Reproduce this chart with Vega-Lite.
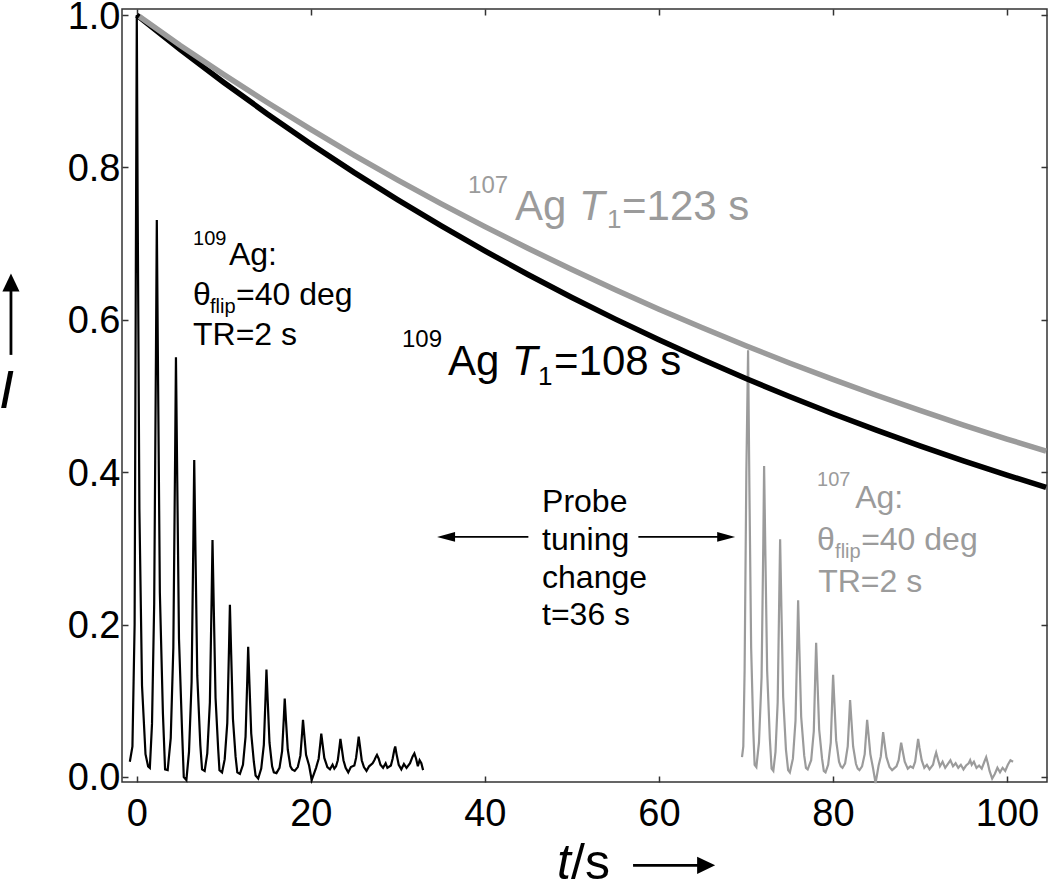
{
  "$schema": "https://vega.github.io/schema/vega-lite/v6.json",
  "width": 925,
  "height": 773,
  "autosize": {"type": "none"},
  "padding": {"left": 122, "top": 9, "right": 3, "bottom": 109},
  "background": "white",
  "config": {
    "font": "Liberation Sans",
    "view": {"stroke": "#333333", "strokeWidth": 1.5},
    "axis": {"grid": false, "domain": false, "tickColor": "#333333", "tickWidth": 1.5, "tickSize": -6, "labelFontSize": 38, "labelColor": "#000000", "labelFlush": false, "labelFont": "Liberation Sans"}
  },
  "datasets": {
    "curves": [
      {"t": 0, "I": 1.0, "iso": "109Ag"}, {"t": 5, "I": 0.9548, "iso": "109Ag"}, {"t": 10, "I": 0.9116, "iso": "109Ag"}, {"t": 15, "I": 0.8703, "iso": "109Ag"}, {"t": 20, "I": 0.8309, "iso": "109Ag"}, {"t": 25, "I": 0.7933, "iso": "109Ag"}, {"t": 30, "I": 0.7575, "iso": "109Ag"}, {"t": 35, "I": 0.7232, "iso": "109Ag"}, {"t": 40, "I": 0.6905, "iso": "109Ag"}, {"t": 45, "I": 0.6592, "iso": "109Ag"}, {"t": 50, "I": 0.6294, "iso": "109Ag"}, {"t": 55, "I": 0.6009, "iso": "109Ag"}, {"t": 60, "I": 0.5738, "iso": "109Ag"}, {"t": 65, "I": 0.5478, "iso": "109Ag"}, {"t": 70, "I": 0.523, "iso": "109Ag"}, {"t": 75, "I": 0.4994, "iso": "109Ag"}, {"t": 80, "I": 0.4768, "iso": "109Ag"}, {"t": 85, "I": 0.4552, "iso": "109Ag"}, {"t": 90, "I": 0.4346, "iso": "109Ag"}, {"t": 95, "I": 0.415, "iso": "109Ag"}, {"t": 100, "I": 0.3962, "iso": "109Ag"}, {"t": 104.5, "I": 0.38, "iso": "109Ag"},
      {"t": 0.3, "I": 0.998, "iso": "107Ag"}, {"t": 5, "I": 0.9602, "iso": "107Ag"}, {"t": 10, "I": 0.9219, "iso": "107Ag"}, {"t": 15, "I": 0.8852, "iso": "107Ag"}, {"t": 20, "I": 0.8499, "iso": "107Ag"}, {"t": 25, "I": 0.816, "iso": "107Ag"}, {"t": 30, "I": 0.7835, "iso": "107Ag"}, {"t": 35, "I": 0.7523, "iso": "107Ag"}, {"t": 40, "I": 0.7224, "iso": "107Ag"}, {"t": 45, "I": 0.6936, "iso": "107Ag"}, {"t": 50, "I": 0.666, "iso": "107Ag"}, {"t": 55, "I": 0.6394, "iso": "107Ag"}, {"t": 60, "I": 0.614, "iso": "107Ag"}, {"t": 65, "I": 0.5895, "iso": "107Ag"}, {"t": 70, "I": 0.566, "iso": "107Ag"}, {"t": 75, "I": 0.5434, "iso": "107Ag"}, {"t": 80, "I": 0.5218, "iso": "107Ag"}, {"t": 85, "I": 0.501, "iso": "107Ag"}, {"t": 90, "I": 0.4811, "iso": "107Ag"}, {"t": 95, "I": 0.4619, "iso": "107Ag"}, {"t": 100, "I": 0.4435, "iso": "107Ag"}, {"t": 104.5, "I": 0.4276, "iso": "107Ag"}
    ],
    "spectra": [
      {"t": -0.8, "I": 0.02, "iso": "109Ag"}, {"t": -0.5, "I": 0.04, "iso": "109Ag"}, {"t": -0.25, "I": 0.2, "iso": "109Ag"}, {"t": -0.1, "I": 0.7, "iso": "109Ag"}, {"t": 0, "I": 1.0, "iso": "109Ag"}, {"t": 0.1, "I": 0.75, "iso": "109Ag"}, {"t": 0.3, "I": 0.35, "iso": "109Ag"}, {"t": 0.6, "I": 0.12, "iso": "109Ag"}, {"t": 1.0, "I": 0.03, "iso": "109Ag"}, {"t": 1.3, "I": 0.014, "iso": "109Ag"}, {"t": 1.5, "I": 0.012, "iso": "109Ag"},
      {"t": 1.75, "I": 0.07, "iso": "109Ag"}, {"t": 2.0, "I": 0.228, "iso": "109Ag"}, {"t": 2.2, "I": 0.551, "iso": "109Ag"}, {"t": 2.3, "I": 0.731, "iso": "109Ag"}, {"t": 2.45, "I": 0.515, "iso": "109Ag"}, {"t": 2.65, "I": 0.242, "iso": "109Ag"}, {"t": 3.0, "I": 0.084, "iso": "109Ag"}, {"t": 3.25, "I": 0.01, "iso": "109Ag"}, {"t": 3.55, "I": 0.009, "iso": "109Ag"},
      {"t": 3.9, "I": 0.051, "iso": "109Ag"}, {"t": 4.2, "I": 0.17, "iso": "109Ag"}, {"t": 4.4, "I": 0.415, "iso": "109Ag"}, {"t": 4.5, "I": 0.551, "iso": "109Ag"}, {"t": 4.65, "I": 0.388, "iso": "109Ag"}, {"t": 4.85, "I": 0.181, "iso": "109Ag"}, {"t": 5.2, "I": 0.061, "iso": "109Ag"}, {"t": 5.4, "I": 0.0, "iso": "109Ag"}, {"t": 5.7, "I": -0.004, "iso": "109Ag"},
      {"t": 6.0, "I": 0.033, "iso": "109Ag"}, {"t": 6.3, "I": 0.125, "iso": "109Ag"}, {"t": 6.5, "I": 0.312, "iso": "109Ag"}, {"t": 6.6, "I": 0.416, "iso": "109Ag"}, {"t": 6.75, "I": 0.291, "iso": "109Ag"}, {"t": 6.95, "I": 0.133, "iso": "109Ag"}, {"t": 7.3, "I": 0.042, "iso": "109Ag"}, {"t": 7.5, "I": 0.01, "iso": "109Ag"}, {"t": 7.8, "I": 0.008, "iso": "109Ag"},
      {"t": 8.1, "I": 0.031, "iso": "109Ag"}, {"t": 8.4, "I": 0.098, "iso": "109Ag"}, {"t": 8.6, "I": 0.235, "iso": "109Ag"}, {"t": 8.7, "I": 0.311, "iso": "109Ag"}, {"t": 8.85, "I": 0.22, "iso": "109Ag"}, {"t": 9.05, "I": 0.104, "iso": "109Ag"}, {"t": 9.35, "I": 0.037, "iso": "109Ag"}, {"t": 9.5, "I": 0.009, "iso": "109Ag"}, {"t": 9.8, "I": 0.006, "iso": "109Ag"},
      {"t": 10.1, "I": 0.023, "iso": "109Ag"}, {"t": 10.4, "I": 0.071, "iso": "109Ag"}, {"t": 10.6, "I": 0.171, "iso": "109Ag"}, {"t": 10.7, "I": 0.226, "iso": "109Ag"}, {"t": 10.85, "I": 0.16, "iso": "109Ag"}, {"t": 11.05, "I": 0.076, "iso": "109Ag"}, {"t": 11.35, "I": 0.027, "iso": "109Ag"}, {"t": 11.55, "I": 0.006, "iso": "109Ag"}, {"t": 11.85, "I": 0.004, "iso": "109Ag"},
      {"t": 12.2, "I": 0.016, "iso": "109Ag"}, {"t": 12.5, "I": 0.053, "iso": "109Ag"}, {"t": 12.7, "I": 0.129, "iso": "109Ag"}, {"t": 12.8, "I": 0.171, "iso": "109Ag"}, {"t": 12.95, "I": 0.121, "iso": "109Ag"}, {"t": 13.15, "I": 0.057, "iso": "109Ag"}, {"t": 13.45, "I": 0.02, "iso": "109Ag"}, {"t": 13.65, "I": 0.002, "iso": "109Ag"}, {"t": 13.95, "I": -0.002, "iso": "109Ag"},
      {"t": 14.3, "I": 0.011, "iso": "109Ag"}, {"t": 14.6, "I": 0.042, "iso": "109Ag"}, {"t": 14.8, "I": 0.106, "iso": "109Ag"}, {"t": 14.9, "I": 0.141, "iso": "109Ag"}, {"t": 15.05, "I": 0.099, "iso": "109Ag"}, {"t": 15.25, "I": 0.045, "iso": "109Ag"}, {"t": 15.55, "I": 0.014, "iso": "109Ag"}, {"t": 15.75, "I": 0.006, "iso": "109Ag"}, {"t": 16.05, "I": 0.005, "iso": "109Ag"},
      {"t": 16.4, "I": 0.012, "iso": "109Ag"}, {"t": 16.7, "I": 0.034, "iso": "109Ag"}, {"t": 16.9, "I": 0.078, "iso": "109Ag"}, {"t": 17.0, "I": 0.103, "iso": "109Ag"}, {"t": 17.15, "I": 0.073, "iso": "109Ag"}, {"t": 17.35, "I": 0.036, "iso": "109Ag"}, {"t": 17.65, "I": 0.014, "iso": "109Ag"}, {"t": 17.85, "I": 0.01, "iso": "109Ag"}, {"t": 18.15, "I": 0.008, "iso": "109Ag"},
      {"t": 18.5, "I": 0.013, "iso": "109Ag"}, {"t": 18.8, "I": 0.028, "iso": "109Ag"}, {"t": 19.0, "I": 0.058, "iso": "109Ag"}, {"t": 19.1, "I": 0.075, "iso": "109Ag"}, {"t": 19.25, "I": 0.055, "iso": "109Ag"}, {"t": 19.45, "I": 0.029, "iso": "109Ag"}, {"t": 19.8, "I": 0.015, "iso": "109Ag"}, {"t": 20.1, "I": -0.004, "iso": "109Ag"},
      {"t": 20.6, "I": 0.012, "iso": "109Ag"}, {"t": 20.9, "I": 0.024, "iso": "109Ag"}, {"t": 21.1, "I": 0.045, "iso": "109Ag"}, {"t": 21.2, "I": 0.057, "iso": "109Ag"}, {"t": 21.35, "I": 0.043, "iso": "109Ag"}, {"t": 21.55, "I": 0.025, "iso": "109Ag"}, {"t": 21.9, "I": 0.013, "iso": "109Ag"}, {"t": 22.2, "I": 0.01, "iso": "109Ag"}, {"t": 22.5, "I": 0.016, "iso": "109Ag"}, {"t": 22.7, "I": 0.011, "iso": "109Ag"},
      {"t": 22.9, "I": 0.014, "iso": "109Ag"}, {"t": 23.1, "I": 0.022, "iso": "109Ag"}, {"t": 23.3, "I": 0.04, "iso": "109Ag"}, {"t": 23.4, "I": 0.05, "iso": "109Ag"}, {"t": 23.55, "I": 0.038, "iso": "109Ag"}, {"t": 23.75, "I": 0.022, "iso": "109Ag"}, {"t": 24.0, "I": 0.012, "iso": "109Ag"}, {"t": 24.3, "I": 0.006, "iso": "109Ag"}, {"t": 24.6, "I": 0.013, "iso": "109Ag"},
      {"t": 25.0, "I": 0.015, "iso": "109Ag"}, {"t": 25.2, "I": 0.025, "iso": "109Ag"}, {"t": 25.4, "I": 0.043, "iso": "109Ag"}, {"t": 25.5, "I": 0.053, "iso": "109Ag"}, {"t": 25.65, "I": 0.04, "iso": "109Ag"}, {"t": 25.85, "I": 0.022, "iso": "109Ag"}, {"t": 26.1, "I": 0.013, "iso": "109Ag"}, {"t": 26.4, "I": 0.008, "iso": "109Ag"}, {"t": 26.7, "I": 0.014, "iso": "109Ag"},
      {"t": 27.1, "I": 0.018, "iso": "109Ag"}, {"t": 27.3, "I": 0.022, "iso": "109Ag"}, {"t": 27.5, "I": 0.027, "iso": "109Ag"}, {"t": 27.6, "I": 0.029, "iso": "109Ag"}, {"t": 27.8, "I": 0.024, "iso": "109Ag"}, {"t": 28.0, "I": 0.016, "iso": "109Ag"}, {"t": 28.3, "I": 0.012, "iso": "109Ag"}, {"t": 28.6, "I": 0.018, "iso": "109Ag"}, {"t": 28.8, "I": 0.012, "iso": "109Ag"},
      {"t": 29.2, "I": 0.015, "iso": "109Ag"}, {"t": 29.4, "I": 0.024, "iso": "109Ag"}, {"t": 29.6, "I": 0.036, "iso": "109Ag"}, {"t": 29.7, "I": 0.04, "iso": "109Ag"}, {"t": 29.85, "I": 0.03, "iso": "109Ag"}, {"t": 30.1, "I": 0.016, "iso": "109Ag"}, {"t": 30.4, "I": 0.01, "iso": "109Ag"}, {"t": 30.7, "I": 0.017, "iso": "109Ag"}, {"t": 31.0, "I": 0.012, "iso": "109Ag"},
      {"t": 31.4, "I": 0.018, "iso": "109Ag"}, {"t": 31.7, "I": 0.027, "iso": "109Ag"}, {"t": 31.9, "I": 0.031, "iso": "109Ag"}, {"t": 32.1, "I": 0.024, "iso": "109Ag"}, {"t": 32.3, "I": 0.014, "iso": "109Ag"}, {"t": 32.5, "I": 0.022, "iso": "109Ag"}, {"t": 32.7, "I": 0.018, "iso": "109Ag"}, {"t": 32.9, "I": 0.009, "iso": "109Ag"},
      {"t": 69.55, "I": 0.026, "iso": "107Ag"}, {"t": 69.7, "I": 0.04, "iso": "107Ag"}, {"t": 69.85, "I": 0.14, "iso": "107Ag"}, {"t": 70.05, "I": 0.4, "iso": "107Ag"}, {"t": 70.25, "I": 0.56, "iso": "107Ag"}, {"t": 70.4, "I": 0.38, "iso": "107Ag"}, {"t": 70.6, "I": 0.17, "iso": "107Ag"}, {"t": 70.85, "I": 0.06, "iso": "107Ag"}, {"t": 71.0, "I": 0.016, "iso": "107Ag"}, {"t": 71.2, "I": 0.013, "iso": "107Ag"},
      {"t": 71.5, "I": 0.045, "iso": "107Ag"}, {"t": 71.8, "I": 0.131, "iso": "107Ag"}, {"t": 72.0, "I": 0.309, "iso": "107Ag"}, {"t": 72.09, "I": 0.408, "iso": "107Ag"}, {"t": 72.24, "I": 0.29, "iso": "107Ag"}, {"t": 72.44, "I": 0.139, "iso": "107Ag"}, {"t": 72.75, "I": 0.05, "iso": "107Ag"}, {"t": 72.95, "I": 0.011, "iso": "107Ag"}, {"t": 73.15, "I": 0.008, "iso": "107Ag"},
      {"t": 73.4, "I": 0.033, "iso": "107Ag"}, {"t": 73.65, "I": 0.098, "iso": "107Ag"}, {"t": 73.83, "I": 0.236, "iso": "107Ag"}, {"t": 73.93, "I": 0.312, "iso": "107Ag"}, {"t": 74.08, "I": 0.22, "iso": "107Ag"}, {"t": 74.28, "I": 0.105, "iso": "107Ag"}, {"t": 74.6, "I": 0.036, "iso": "107Ag"}, {"t": 74.85, "I": 0.009, "iso": "107Ag"}, {"t": 75.05, "I": 0.006, "iso": "107Ag"},
      {"t": 75.4, "I": 0.024, "iso": "107Ag"}, {"t": 75.7, "I": 0.074, "iso": "107Ag"}, {"t": 75.9, "I": 0.175, "iso": "107Ag"}, {"t": 76.0, "I": 0.232, "iso": "107Ag"}, {"t": 76.15, "I": 0.165, "iso": "107Ag"}, {"t": 76.35, "I": 0.079, "iso": "107Ag"}, {"t": 76.7, "I": 0.028, "iso": "107Ag"}, {"t": 76.9, "I": 0.012, "iso": "107Ag"}, {"t": 77.1, "I": 0.01, "iso": "107Ag"},
      {"t": 77.5, "I": 0.022, "iso": "107Ag"}, {"t": 77.8, "I": 0.06, "iso": "107Ag"}, {"t": 77.97, "I": 0.134, "iso": "107Ag"}, {"t": 78.07, "I": 0.176, "iso": "107Ag"}, {"t": 78.22, "I": 0.126, "iso": "107Ag"}, {"t": 78.42, "I": 0.062, "iso": "107Ag"}, {"t": 78.75, "I": 0.024, "iso": "107Ag"}, {"t": 78.95, "I": 0.008, "iso": "107Ag"}, {"t": 79.15, "I": 0.006, "iso": "107Ag"},
      {"t": 79.45, "I": 0.016, "iso": "107Ag"}, {"t": 79.75, "I": 0.045, "iso": "107Ag"}, {"t": 79.92, "I": 0.102, "iso": "107Ag"}, {"t": 80.02, "I": 0.134, "iso": "107Ag"}, {"t": 80.17, "I": 0.097, "iso": "107Ag"}, {"t": 80.37, "I": 0.048, "iso": "107Ag"}, {"t": 80.7, "I": 0.02, "iso": "107Ag"}, {"t": 80.9, "I": 0.014, "iso": "107Ag"}, {"t": 81.1, "I": 0.012, "iso": "107Ag"},
      {"t": 81.4, "I": 0.018, "iso": "107Ag"}, {"t": 81.7, "I": 0.04, "iso": "107Ag"}, {"t": 81.87, "I": 0.078, "iso": "107Ag"}, {"t": 81.97, "I": 0.101, "iso": "107Ag"}, {"t": 82.12, "I": 0.075, "iso": "107Ag"}, {"t": 82.32, "I": 0.04, "iso": "107Ag"}, {"t": 82.65, "I": 0.017, "iso": "107Ag"}, {"t": 82.85, "I": 0.011, "iso": "107Ag"}, {"t": 83.05, "I": 0.009, "iso": "107Ag"},
      {"t": 83.35, "I": 0.014, "iso": "107Ag"}, {"t": 83.65, "I": 0.03, "iso": "107Ag"}, {"t": 83.83, "I": 0.059, "iso": "107Ag"}, {"t": 83.93, "I": 0.075, "iso": "107Ag"}, {"t": 84.08, "I": 0.057, "iso": "107Ag"}, {"t": 84.3, "I": 0.03, "iso": "107Ag"}, {"t": 84.6, "I": 0.012, "iso": "107Ag"}, {"t": 84.9, "I": -0.008, "iso": "107Ag"},
      {"t": 85.25, "I": 0.015, "iso": "107Ag"}, {"t": 85.5, "I": 0.027, "iso": "107Ag"}, {"t": 85.67, "I": 0.047, "iso": "107Ag"}, {"t": 85.77, "I": 0.059, "iso": "107Ag"}, {"t": 85.92, "I": 0.045, "iso": "107Ag"}, {"t": 86.15, "I": 0.026, "iso": "107Ag"}, {"t": 86.5, "I": 0.013, "iso": "107Ag"}, {"t": 86.8, "I": 0.009, "iso": "107Ag"},
      {"t": 87.3, "I": 0.014, "iso": "107Ag"}, {"t": 87.55, "I": 0.022, "iso": "107Ag"}, {"t": 87.74, "I": 0.037, "iso": "107Ag"}, {"t": 87.84, "I": 0.045, "iso": "107Ag"}, {"t": 88.0, "I": 0.035, "iso": "107Ag"}, {"t": 88.25, "I": 0.02, "iso": "107Ag"}, {"t": 88.6, "I": 0.011, "iso": "107Ag"}, {"t": 88.9, "I": 0.014, "iso": "107Ag"}, {"t": 89.2, "I": 0.012, "iso": "107Ag"},
      {"t": 89.45, "I": 0.02, "iso": "107Ag"}, {"t": 89.65, "I": 0.038, "iso": "107Ag"}, {"t": 89.79, "I": 0.05, "iso": "107Ag"}, {"t": 89.95, "I": 0.038, "iso": "107Ag"}, {"t": 90.2, "I": 0.022, "iso": "107Ag"}, {"t": 90.5, "I": 0.012, "iso": "107Ag"}, {"t": 90.8, "I": 0.016, "iso": "107Ag"}, {"t": 91.1, "I": 0.01, "iso": "107Ag"},
      {"t": 91.5, "I": 0.016, "iso": "107Ag"}, {"t": 91.7, "I": 0.026, "iso": "107Ag"}, {"t": 91.86, "I": 0.032, "iso": "107Ag"}, {"t": 92.05, "I": 0.024, "iso": "107Ag"}, {"t": 92.3, "I": 0.014, "iso": "107Ag"}, {"t": 92.6, "I": 0.02, "iso": "107Ag"}, {"t": 92.9, "I": 0.012, "iso": "107Ag"}, {"t": 93.2, "I": 0.017, "iso": "107Ag"}, {"t": 93.5, "I": 0.022, "iso": "107Ag"}, {"t": 93.8, "I": 0.014, "iso": "107Ag"}, {"t": 94.1, "I": 0.018, "iso": "107Ag"}, {"t": 94.4, "I": 0.012, "iso": "107Ag"}, {"t": 94.7, "I": 0.016, "iso": "107Ag"}, {"t": 95.0, "I": 0.01, "iso": "107Ag"}, {"t": 95.3, "I": 0.015, "iso": "107Ag"},
      {"t": 95.6, "I": 0.018, "iso": "107Ag"}, {"t": 95.77, "I": 0.022, "iso": "107Ag"}, {"t": 95.95, "I": 0.016, "iso": "107Ag"}, {"t": 96.2, "I": 0.02, "iso": "107Ag"}, {"t": 96.5, "I": 0.012, "iso": "107Ag"}, {"t": 96.8, "I": 0.015, "iso": "107Ag"}, {"t": 97.1, "I": 0.011, "iso": "107Ag"}, {"t": 97.4, "I": 0.02, "iso": "107Ag"}, {"t": 97.61, "I": 0.026, "iso": "107Ag"}, {"t": 97.8, "I": 0.018, "iso": "107Ag"}, {"t": 98.0, "I": 0.008, "iso": "107Ag"}, {"t": 98.3, "I": -0.002, "iso": "107Ag"}, {"t": 98.6, "I": 0.004, "iso": "107Ag"}, {"t": 98.9, "I": 0.012, "iso": "107Ag"}, {"t": 99.2, "I": 0.006, "iso": "107Ag"}, {"t": 99.5, "I": 0.012, "iso": "107Ag"}, {"t": 99.8, "I": 0.008, "iso": "107Ag"}, {"t": 100.1, "I": 0.016, "iso": "107Ag"}, {"t": 100.4, "I": 0.022, "iso": "107Ag"}, {"t": 100.7, "I": 0.02, "iso": "107Ag"}
    ],
    "labels": [
      {"t": 38.07, "I": 0.7665, "label": "107", "kind": "bigSup", "iso": "107Ag"},
      {"t": 43.47, "I": 0.7311, "label": "Ag", "kind": "big", "iso": "107Ag"},
      {"t": 50.83, "I": 0.7311, "label": "T", "kind": "bigI", "iso": "107Ag"},
      {"t": 54.05, "I": 0.7206, "label": "1", "kind": "bigSub", "iso": "107Ag"},
      {"t": 55.77, "I": 0.7311, "label": "=123 s", "kind": "big", "iso": "107Ag"},
      {"t": 30.48, "I": 0.5644, "label": "109", "kind": "bigSup", "iso": "109Ag"},
      {"t": 35.77, "I": 0.5277, "label": "Ag", "kind": "big", "iso": "109Ag"},
      {"t": 43.13, "I": 0.5277, "label": "T", "kind": "bigI", "iso": "109Ag"},
      {"t": 46.11, "I": 0.5146, "label": "1", "kind": "bigSub", "iso": "109Ag"},
      {"t": 47.95, "I": 0.5277, "label": "=108 s", "kind": "big", "iso": "109Ag"},
      {"t": 6.46, "I": 0.6983, "label": "109", "kind": "noteSup", "iso": "109Ag"},
      {"t": 10.59, "I": 0.672, "label": "Ag:", "kind": "note", "iso": "109Ag"},
      {"t": 6.46, "I": 0.6195, "label": "θ", "kind": "note", "iso": "109Ag"},
      {"t": 8.41, "I": 0.609, "label": "flip", "kind": "noteSub", "iso": "109Ag"},
      {"t": 11.4, "I": 0.6195, "label": "=40 deg", "kind": "note", "iso": "109Ag"},
      {"t": 6.46, "I": 0.5671, "label": "TR=2 s", "kind": "note", "iso": "109Ag"},
      {"t": 78.18, "I": 0.382, "label": "107", "kind": "noteSup", "iso": "107Ag"},
      {"t": 82.55, "I": 0.3531, "label": "Ag:", "kind": "note", "iso": "107Ag"},
      {"t": 78.18, "I": 0.298, "label": "θ", "kind": "note", "iso": "107Ag"},
      {"t": 80.25, "I": 0.2875, "label": "flip", "kind": "noteSub", "iso": "107Ag"},
      {"t": 83.24, "I": 0.298, "label": "=40 deg", "kind": "note", "iso": "107Ag"},
      {"t": 78.3, "I": 0.2429, "label": "TR=2 s", "kind": "note", "iso": "107Ag"},
      {"t": 46.57, "I": 0.3478, "label": "Probe", "kind": "note", "iso": "other"},
      {"t": 46.57, "I": 0.298, "label": "tuning", "kind": "note", "iso": "other"},
      {"t": 46.57, "I": 0.2481, "label": "change", "kind": "note", "iso": "other"},
      {"t": 46.57, "I": 0.1996, "label": "t=36 s", "kind": "note", "iso": "other"},
      {"t": -15.84, "I": 0.4844, "label": "I", "kind": "titleI", "iso": "other"},
      {"t": 48.3, "I": -0.134, "label": "t", "kind": "titleT", "iso": "other"},
      {"t": 49.9, "I": -0.134, "label": "/s", "kind": "title", "iso": "other"}
    ],
    "shafts": [
      {"t": 45.0, "I": 0.3151, "t2": 35.6, "I2": 0.3151, "kind": "thin", "iso": "other"},
      {"t": 57.64, "I": 0.3151, "t2": 67.7, "I2": 0.3151, "kind": "thin", "iso": "other"},
      {"t": 57.03, "I": -0.116, "t2": 65.4, "I2": -0.116, "kind": "thick", "iso": "other"},
      {"t": -14.46, "I": 0.554, "t2": -14.46, "I2": 0.649, "kind": "thick", "iso": "other"}
    ],
    "heads": [
      {"t": 35.54, "I": 0.3151, "dir": "probeLeft", "iso": "other"},
      {"t": 67.73, "I": 0.3151, "dir": "probeRight", "iso": "other"},
      {"t": 65.43, "I": -0.116, "dir": "titleRight", "iso": "other"},
      {"t": -14.46, "I": 0.6491, "dir": "titleUp", "iso": "other"}
    ]
  },
  "resolve": {"axis": {"x": "independent", "y": "independent"}},
  "layer": [
    {
      "encoding": {
        "x": {"field": "t", "type": "quantitative", "scale": {"domain": [-1.7, 104.6], "nice": false, "zero": false}, "axis": {"orient": "bottom", "values": [0, 20, 40, 60, 80, 100], "title": null, "labelPadding": 19}},
        "y": {"field": "I", "type": "quantitative", "scale": {"domain": [-0.0066, 1.008], "nice": false, "zero": false}, "axis": {"orient": "left", "values": [0, 0.2, 0.4, 0.6, 0.8, 1.0], "format": ".1f", "title": null, "labelPadding": 8, "labelOffset": 2}},
        "color": {"field": "iso", "type": "nominal", "scale": {"domain": ["109Ag", "107Ag", "other"], "range": ["#000000", "#9b9b9b", "#000000"]}, "legend": null}
      },
      "layer": [
        {"data": {"name": "spectra"}, "mark": {"type": "line", "strokeWidth": 2.2}},
        {"data": {"name": "curves"}, "mark": {"type": "line", "strokeWidth": 5.5}},
        {"data": {"name": "shafts"}, "transform": [{"filter": "datum.kind === 'thin'"}], "mark": {"type": "rule", "strokeWidth": 1.8}, "encoding": {"x2": {"field": "t2"}, "y2": {"field": "I2"}}},
        {"data": {"name": "shafts"}, "transform": [{"filter": "datum.kind === 'thick'"}], "mark": {"type": "rule", "strokeWidth": 2.8}, "encoding": {"x2": {"field": "t2"}, "y2": {"field": "I2"}}},
        {"data": {"name": "heads"}, "mark": {"type": "point", "filled": true, "size": 324, "opacity": 1, "strokeWidth": 0}, "encoding": {"shape": {"field": "dir", "type": "nominal", "scale": {"domain": ["probeLeft", "probeRight", "titleRight", "titleUp"], "range": ["M-1,0L1,-0.55L1,0.55Z", "M1,0L-1,-0.55L-1,0.55Z", "M1,0L-1,-0.95L-1,0.95Z", "M0,-1L-0.95,1L0.95,1Z"]}, "legend": null}}},
        {"data": {"name": "labels"}, "transform": [{"filter": "datum.kind === 'big'"}], "mark": {"type": "text", "align": "left", "baseline": "alphabetic", "fontSize": 42}, "encoding": {"text": {"field": "label"}}},
        {"data": {"name": "labels"}, "transform": [{"filter": "datum.kind === 'bigI'"}], "mark": {"type": "text", "align": "left", "baseline": "alphabetic", "fontSize": 42, "fontStyle": "italic"}, "encoding": {"text": {"field": "label"}}},
        {"data": {"name": "labels"}, "transform": [{"filter": "datum.kind === 'bigSub'"}], "mark": {"type": "text", "align": "left", "baseline": "alphabetic", "fontSize": 26}, "encoding": {"text": {"field": "label"}}},
        {"data": {"name": "labels"}, "transform": [{"filter": "datum.kind === 'bigSup'"}], "mark": {"type": "text", "align": "left", "baseline": "alphabetic", "fontSize": 24}, "encoding": {"text": {"field": "label"}}},
        {"data": {"name": "labels"}, "transform": [{"filter": "datum.kind === 'note'"}], "mark": {"type": "text", "align": "left", "baseline": "alphabetic", "fontSize": 32}, "encoding": {"text": {"field": "label"}}},
        {"data": {"name": "labels"}, "transform": [{"filter": "datum.kind === 'noteSub' || datum.kind === 'noteSup'"}], "mark": {"type": "text", "align": "left", "baseline": "alphabetic", "fontSize": 20}, "encoding": {"text": {"field": "label"}}},
        {"data": {"name": "labels"}, "transform": [{"filter": "datum.kind === 'titleI'"}], "mark": {"type": "text", "align": "left", "baseline": "alphabetic", "fontSize": 54, "fontStyle": "italic"}, "encoding": {"text": {"field": "label"}}},
        {"data": {"name": "labels"}, "transform": [{"filter": "datum.kind === 'titleT'"}], "mark": {"type": "text", "align": "left", "baseline": "alphabetic", "fontSize": 50, "fontStyle": "italic"}, "encoding": {"text": {"field": "label"}}},
        {"data": {"name": "labels"}, "transform": [{"filter": "datum.kind === 'title'"}], "mark": {"type": "text", "align": "left", "baseline": "alphabetic", "fontSize": 50}, "encoding": {"text": {"field": "label"}}}
      ]
    },
    {
      "data": {"name": "curves"},
      "mark": {"type": "point", "opacity": 0},
      "encoding": {
        "x": {"field": "t", "type": "quantitative", "scale": {"domain": [-1.7, 104.6], "nice": false, "zero": false}, "axis": {"orient": "top", "values": [0, 20, 40, 60, 80, 100], "labels": false, "title": null}},
        "y": {"field": "I", "type": "quantitative", "scale": {"domain": [-0.0066, 1.008], "nice": false, "zero": false}, "axis": {"orient": "right", "values": [0, 0.2, 0.4, 0.6, 0.8, 1.0], "labels": false, "title": null}}
      }
    }
  ]
}
